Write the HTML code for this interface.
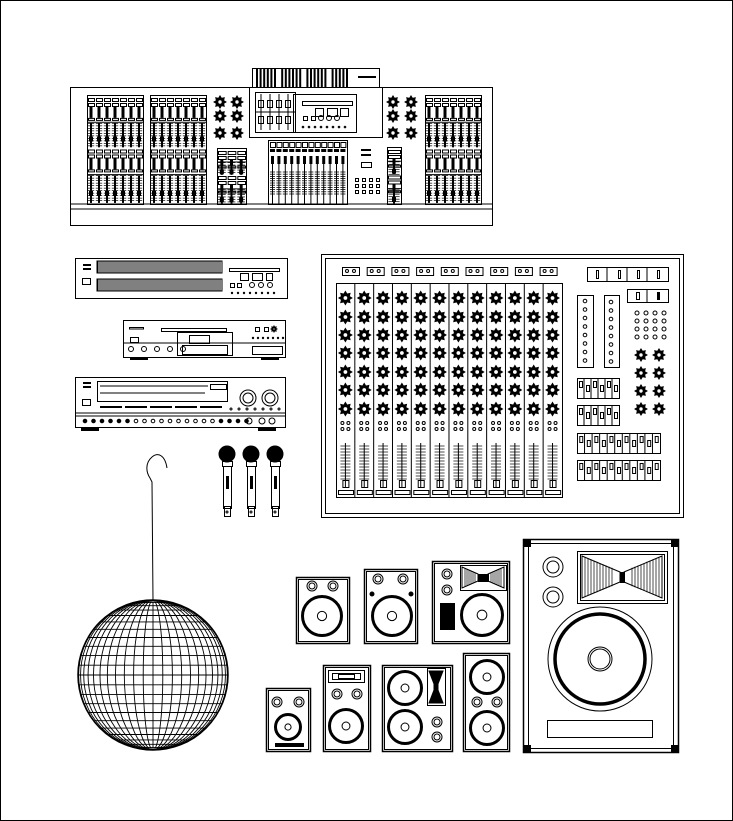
<!DOCTYPE html>
<html><head><meta charset="utf-8"><style>
html,body{margin:0;padding:0;background:#fff;width:733px;height:821px;overflow:hidden}
svg{display:block}
</style></head><body>
<svg id="s" width="733" height="821" viewBox="0 0 733 821" xmlns="http://www.w3.org/2000/svg" fill="none" stroke="#000" stroke-width="1">
<rect x="0.5" y="0.5" width="732" height="820" stroke="#000"/>
</svg>
<script>
var S=document.getElementById('s'),NS='http://www.w3.org/2000/svg';
function el(t,a){var e=document.createElementNS(NS,t);for(var k in a)e.setAttribute(k,a[k]);S.appendChild(e);return e;}
function R(x,y,w,h,f,sw){return el('rect',{x:x+.5,y:y+.5,width:w,height:h,fill:f||'none','stroke-width':sw||1});}
function C(x,y,r,sw,f){return el('circle',{cx:x,cy:y,r:r,'stroke-width':sw||1,fill:f||'none'});}
function L(x1,y1,x2,y2,sw){return el('line',{x1:x1,y1:y1,x2:x2,y2:y2,'stroke-width':sw||1});}
function knob(x,y,r){r=r||6;var p=[];for(var i=0;i<16;i++){var a=i*Math.PI/8,rr=i%2?r*0.65:r;p.push((x+rr*Math.cos(a)).toFixed(1)+','+(y+rr*Math.sin(a)).toFixed(1));}
el('polygon',{points:p.join(' '),fill:'#000'});C(x,y,r*0.35,0.8,'#fff');}
function bank(x,y,w,h,n){R(x,y,w,h);var cw=w/n;
 var sec=[[y+2,h*0.28],[y+h*0.5,h*0.2]];
 // top button rows
 [[y+3],[y+h*0.5]].forEach(function(s){for(var i=0;i<n;i++){var cx=x+i*cw;R(cx+1,s[0],cw-2,3);R(cx+1,s[0]+5,cw-2,3);el('rect',{x:cx+cw/2-1.5,y:s[0]+9,width:3,height:h*0.1,fill:'#000',stroke:'none'});R(cx+1,s[0]+9+h*0.1,cw-2,2);}});
 L(x,y+h*0.25,x+w,y+h*0.25);L(x,y+h*0.73,x+w,y+h*0.73);
 [[y+h*0.26,h*0.22],[y+h*0.74,h*0.25]].forEach(function(s){for(var i=0;i<n;i++){var cx=x+i*cw+cw/2;L(cx,s[0],cx,s[0]+s[1],2);for(var j=0;j<s[1];j+=2.5)L(cx-cw*0.4,s[0]+j,cx+cw*0.4,s[0]+j,0.7);el('rect',{x:cx-2,y:s[0]+s[1]*0.55,width:4,height:5,fill:'#000',stroke:'none'});}});
}
// ===== top console =====
R(70,87,422,138);L(70,204,492,204);L(70,209,492,209);
R(252,68,127,19);for(var i=0;i<26;i++){var xx=256+i*3.6;if(i%7!=6)el('rect',{x:xx,y:69,width:2,height:18,fill:'#000',stroke:'none'});}L(358,77,376,77,2);
R(249,87,133,50);
R(255,92,40,40);for(var i=0;i<4;i++){L(261+i*9,94,261+i*9,130);R(258+i*9,100,5,7);R(258+i*9,116,5,7);}L(255,112,295,112);
R(293,94,63,38);R(302,101,50,4);R(315,108,8,8);R(327,108,10,8);R(340,108,8,8);
for(var i=0;i<5;i++){if(i<2)R(303+i*8,116,4,4);else C(305+i*8,118,2.5);}for(var i=0;i<8;i++)C(303+i*6,127,0.8);
bank(87,95,56,109,7);bank(150,95,56,109,7);bank(425,95,56,109,7);
[[220,102],[237,102],[220,116],[237,116],[220,133],[237,133],[393,102],[411,102],[393,116],[411,116],[393,133],[411,133]].forEach(function(p){knob(p[0],p[1],6);});
bank(217,148,29,56,3);bank(387,147,14,57,1);
// center bank
R(268,140,79,64);for(var i=0;i<12;i++){var cx=270+i*6.4;R(cx,142,5,5);el('rect',{x:cx,y:149,width:5,height:3,fill:'#000',stroke:'none'});el('rect',{x:cx+1,y:156,width:3,height:8,fill:'#000',stroke:'none'});L(cx+2.5,164,cx+2.5,204,1);for(var j=0;j<24;j+=2.2)L(cx,172+j,cx+5,172+j,0.8);}
L(361,150,371,150,2);L(361,155,371,155,2);R(361,162,10,5);for(var r=0;r<3;r++)for(var c=0;c<4;c++)R(355+c*7,178+r*6,3,3);
// ===== EQ =====
R(75,258,212,40);L(83,265,91,265,2);L(83,269,91,269,2);R(82,278,8,6);
[261,279].forEach(function(yy){el('rect',{x:97,y:yy,width:125,height:12,fill:'none',stroke:'#000'});for(var i=0;i<62;i++)L(98+i*2,yy,98+i*2,yy+12,1);});
R(229,268,50,3);R(240,273,8,7);R(252,273,10,7);R(266,273,6,7);R(230,283,4,4);R(237,283,4,4);C(252,285,2.5);C(261,285,2.5);C(270,285,2.5);for(var i=0;i<8;i++)C(232+i*6,293,0.7);
// ===== CD player =====
R(123,320,162,37);L(123,343,285,343);R(129,327,14,1.5);R(130,337,8,5);R(161,328,65,3);R(177,332,55,23);R(189,335,20,8);R(182,345,45,9);
for(var i=0;i<5;i++)C(131+i*13,349,2.5);R(255,327,4,4);R(264,327,4,4);knob(274,329,3);R(252,346,30,8);for(var i=0;i<7;i++)C(253+i*5,338,0.7);
R(130,357,17,2,'#000');R(261,357,17,2,'#000');
// ===== receiver =====
R(75,377,210,50);L(75,413,285,413);L(75,416,285,416);L(83,383,91,383,2);L(83,387,91,387,2);R(82,399,8,6);
R(97,381,130,20);L(100,386,208,386);L(100,393,205,393);R(210,384,16,5);for(var i=0;i<5;i++)L(100+i*25,407,122+i*25,407,2);
C(248,398,8);C(248,398,5);C(270,398,8);C(270,398,5);for(var i=0;i<7;i++)C(231+i*8,409,1);
for(var i=0;i<20;i++){var xx=85+i*8.5;C(xx,421,1.8,1,i<6||i>15?'#000':'none');}C(249,421,3);C(262,421,3);C(272,421,3);
R(81,428,17,2,'#000');R(258,428,17,2,'#000');
// ===== mics =====
[227,251,275].forEach(function(x){C(x,454,8,1,'#000');R(x-5,461,10,5);R(x-4,466,8,42);R(x-1,476,2,12,'#000');R(x-3,506,6,10);C(x,512,1);});
// ===== hook + ball =====
el('path',{d:'M167,468 C165,455 158,452 152,457 C145,463 146,472 150,478 L152,482 L153,600'});
var defs=el('defs',{});var cp=document.createElementNS(NS,'clipPath');cp.setAttribute('id','cb');defs.appendChild(cp);var cc=document.createElementNS(NS,'circle');cc.setAttribute('cx',153);cc.setAttribute('cy',675);cc.setAttribute('r',75);cp.appendChild(cc);
var g=el('g',{'clip-path':'url(#cb)'});
for(var i=-11;i<=11;i++){var yy=675+75*Math.sin(i*Math.PI/24);var ln=document.createElementNS(NS,'line');ln.setAttribute('x1',70);ln.setAttribute('x2',240);ln.setAttribute('y1',yy);ln.setAttribute('y2',yy);ln.setAttribute('stroke-width',0.9);g.appendChild(ln);}
for(var i=1;i<12;i++){var rx=75*Math.cos(i*Math.PI/24);var e=document.createElementNS(NS,'ellipse');e.setAttribute('cx',153);e.setAttribute('cy',675);e.setAttribute('rx',rx);e.setAttribute('ry',75);e.setAttribute('stroke-width',0.9);g.appendChild(e);}
L(153,600,153,750,0.9);C(153,675,75,1.5);
// ===== mixer =====
R(321,254,362,263);R(325,258,354,255);
for(var i=0;i<9;i++){var xx=342+i*24.7;R(xx,267,17,8);C(xx+5,271,1.5);C(xx+12,271,1.5);}
R(336,283,226,214);
for(var c=0;c<12;c++){var x0=336+c*18.83,cx=x0+9.4;if(c)L(x0,283,x0,497);
 [298,317,335,353,372,390,409].forEach(function(y){knob(cx,y,6.5);});
 C(cx-3,423,1.5);C(cx+3,423,1.5);C(cx-3,429,1.5);C(cx+3,429,1.5);
 L(cx,443,cx,488,1);for(var j=0;j<36;j+=3)L(cx-5,446+j,cx+5,446+j,0.7);R(cx-3,480,6,7);R(x0+2,490,15,4);}
R(587,267,81,14);for(var i=1;i<4;i++)L(587+i*20,267,587+i*20,281);[596,618,637,657].forEach(function(x){R(x,270,2,8,i%2?'#000':'none');});
R(627,289,41,13);L(647,289,647,302);R(636,292,3,7);R(657,292,2,7,'#000');
R(577,295,16,72);R(604,295,15,72);for(var i=0;i<8;i++){C(585,301+i*8.5,1.8);C(611,302+i*8.5,1.8);}
for(var r=0;r<4;r++)for(var c=0;c<4;c++)C(637+c*9,313+r*8,2);
[355,373,391,409].forEach(function(y){knob(641,y,6);knob(659,y,6);});
[[577,378,42,20,6],[577,405,42,20,6],[577,433,83,20,11],[577,460,83,20,11]].forEach(function(b){R(b[0],b[1],b[2],b[3]);var w=b[2]/b[4];for(var i=0;i<b[4];i++){var xx=b[0]+w*(i+0.5);if(i)L(b[0]+w*i,b[1],b[0]+w*i,b[1]+b[3]);R(xx-1.5,b[1]+3+(i%2)*4,3,6);}});
// ===== speakers =====
function woof(x,y,r){C(x,y,r-1.5,3);C(x,y,r*0.22);}
function tw(x,y,r){C(x,y,r);C(x,y,r*0.6);}
function box(x,y,w,h){R(x,y,w,h,'none',1.5);R(x+2,y+2,w-4,h-4);}
box(296,577,53,66);tw(312,586,5);tw(333,586,5);woof(322,616,21);
box(364,569,53,74);tw(378,579,5);tw(403,579,5);C(372,594,2,1,'#000');C(411,594,2,1,'#000');woof(392,616,21);
box(432,561,77,82);R(460,565,46,25);el('path',{d:'M462,567 L478,574 L478,581 L462,588 Z M504,567 L488,574 L488,581 L504,588 Z'});for(var i=0;i<6;i++){L(465+i*2,568+i,465+i*2,587-i,0.7);L(501-i*2,568+i,501-i*2,587-i,0.7);}R(478,574,10,7,'#000');
tw(447,574,5);tw(447,590,5);R(440,603,14,26,'#000');woof(482,615,22);
// big
R(523,539,155,213,'none',1.5);R(528,543,145,205);[[523,539],[671,539],[523,745],[671,745]].forEach(function(p){R(p[0],p[1],7,7,'#000');});
R(577,551,90,52);R(580,554,84,46);el('path',{d:'M582,556 L620,572 L620,582 L582,598 Z M662,556 L624,572 L624,582 L662,598 Z'});for(var i=0;i<10;i++){L(585+i*3,557+i*1.2,585+i*3,597-i*1.2,0.7);L(659-i*3,557+i*1.2,659-i*3,597-i*1.2,0.7);}R(620,572,4,10,'#000');
tw(553,567,10);tw(553,597,10);C(600,659,52);C(600,659,45,3.5);C(600,659,12);C(600,659,10);R(547,720,105,17);
// bottom row
box(266,688,44,63);tw(277,702,5);tw(299,702,5);woof(288,727,14);R(275,743,28,3,'#000');
box(323,665,47,86);R(328,670,36,12);R(332,673,28,6);R(338,674,16,4,'#fff');tw(337,694,5);tw(357,694,5);woof(346,726,18);
box(382,665,70,86);woof(405,688,18);woof(405,727,18);R(427,668,18,37);el('path',{d:'M429,671 L443,671 L438,684 L438,690 L443,703 L429,703 L434,690 L434,684 Z',fill:'#000'});tw(437,722,5);tw(437,737,5);
box(463,653,46,98);woof(487,677,18);woof(487,728,18);tw(477,702,5);tw(497,702,5);
</script>
</body></html>
